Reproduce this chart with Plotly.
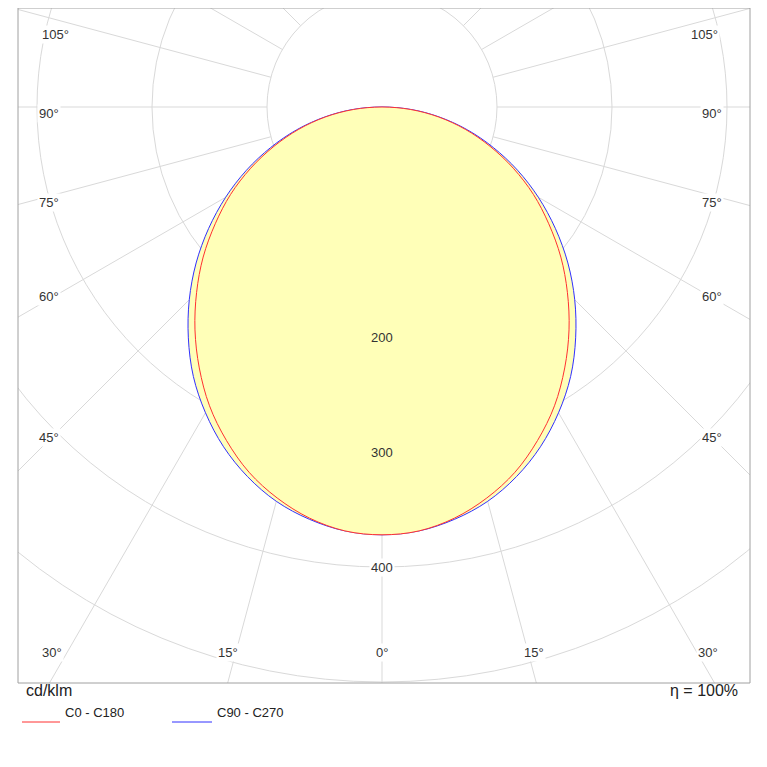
import numpy as np
import plotly.graph_objects as go

# luminous intensity distribution, cd/klm, gamma 0..90 deg
gamma = [0, 5, 10, 15, 20, 25, 30, 35, 40, 45, 50, 55, 60, 65, 70, 75, 80, 85, 90]
c0_c180 = [372, 370, 363, 352, 338, 320, 300, 277, 253, 228, 203, 177, 152, 126, 100, 75, 50, 25, 0]
c90_c270 = [372, 370, 364, 355, 342, 326, 307, 286, 262, 237, 211, 184, 157, 130, 103, 77, 51, 26, 0]

rings = [100, 200, 300, 400, 500, 600, 700]
ring_labels = {200: "#ffffb8", 300: "#ffffb8", 400: "white"}
spokes = list(range(15, 180, 15))

# (label, pixel x, pixel y) along the frame edge
angle_labels = [
    ("105°", 40, 25), ("90°", 37, 104), ("75°", 37, 193), ("60°", 37, 296), ("45°", 37, 437),
    ("105°", 720, 25), ("90°", 724, 104), ("75°", 724, 193), ("60°", 724, 296), ("45°", 724, 437),
    ("30°", 40, 662), ("15°", 216, 662), ("0°", 382, 662), ("15°", 546, 662), ("30°", 720, 662),
]

RED = "#ff3030"
BLUE = "#3030ff"
GRID = "#d9d9d9"
W = H = 767
L, R, T, B = 10, 25, 0, 92   # page adds 8px body margin
X0, X1, Y0, Y1 = 18, 750, 8, 683
CX, CY = 382, 107
S = 1.15


def px(x):
    return (x - X0) / (X1 - X0)


def py(y):
    return (Y1 - y) / (Y1 - Y0)


def curve(values):
    g = np.radians(np.array(gamma, dtype=float))
    r = np.array(values, dtype=float)
    g_full = np.concatenate([-g[::-1], g[1:]])
    r_full = np.concatenate([r[::-1], r[1:]])
    return r_full * np.sin(g_full), -r_full * np.cos(g_full)


fig = go.Figure()
shapes = []
for rr in rings:
    shapes.append(dict(type="circle", xref="x", yref="y", x0=-rr, x1=rr, y0=-rr, y1=rr,
                       line=dict(color=GRID, width=1), layer="below"))
for a in spokes:
    t = np.radians(a)
    for s in (-1, 1):
        shapes.append(dict(type="line", xref="x", yref="y", layer="below",
                           x0=s * 100 * np.sin(t), y0=-100 * np.cos(t),
                           x1=s * 800 * np.sin(t), y1=-800 * np.cos(t),
                           line=dict(color=GRID, width=1)))
shapes.append(dict(type="line", xref="x", yref="y", layer="below", x0=0, y0=-100, x1=0, y1=-800,
                   line=dict(color=GRID, width=1)))
shapes.append(dict(type="rect", xref="paper", yref="paper", x0=0, y0=0, x1=1, y1=1,
                   line=dict(color="#a0a0a0", width=1)))
shapes.append(dict(type="line", xref="paper", yref="paper", x0=px(22), x1=px(60), y0=py(722), y1=py(722),
                   line=dict(color=RED, width=1)))
shapes.append(dict(type="line", xref="paper", yref="paper", x0=px(172), x1=px(212), y0=py(722), y1=py(722),
                   line=dict(color=BLUE, width=1)))

x, y = curve(c90_c270)
fig.add_trace(go.Scatter(x=x, y=y, mode="lines", fill="toself", fillcolor="#ffffb8",
                         line=dict(color=BLUE, width=1, shape="spline")))
x, y = curve(c0_c180)
fig.add_trace(go.Scatter(x=x, y=y, mode="lines", fill="toself", fillcolor="#ffffb8",
                         line=dict(color=RED, width=1, shape="spline")))

ann = []
for rr, bg in ring_labels.items():
    ann.append(dict(x=0, y=-rr, xref="x", yref="y", text=str(rr), showarrow=False,
                    bgcolor=bg, font=dict(size=13, color="#333")))
for txt, ax, ay in angle_labels:
    ann.append(dict(x=px(ax), y=py(ay), xref="paper", yref="paper", text=txt, showarrow=False,
                    bgcolor="white", font=dict(size=13, color="#333")))
ann.append(dict(x=px(24), y=py(701), xref="paper", yref="paper", text="cd/klm", showarrow=False,
                xanchor="left", font=dict(size=16, color="#222")))
ann.append(dict(x=px(740), y=py(701), xref="paper", yref="paper", text="η = 100%", showarrow=False,
                xanchor="right", font=dict(size=16, color="#222")))
ann.append(dict(x=px(63), y=py(722), xref="paper", yref="paper", text="C0 - C180", showarrow=False,
                xanchor="left", font=dict(size=13, color="#222")))
ann.append(dict(x=px(215), y=py(722), xref="paper", yref="paper", text="C90 - C270", showarrow=False,
                xanchor="left", font=dict(size=13, color="#222")))

fig.update_layout(
    width=W, height=H,
    margin=dict(l=L, r=R, t=T, b=B),
    paper_bgcolor="white", plot_bgcolor="white",
    font=dict(family="Arial, Liberation Sans, sans-serif"),
    showlegend=False,
    shapes=shapes,
    annotations=ann,
)
fig.update_xaxes(range=[(X0 - CX) / S, (X1 - CX) / S], visible=False, showgrid=False, zeroline=False)
fig.update_yaxes(range=[-(Y1 - CY) / S, (CY - Y0) / S], visible=False, showgrid=False, zeroline=False)

fig.write_html("out.html")
